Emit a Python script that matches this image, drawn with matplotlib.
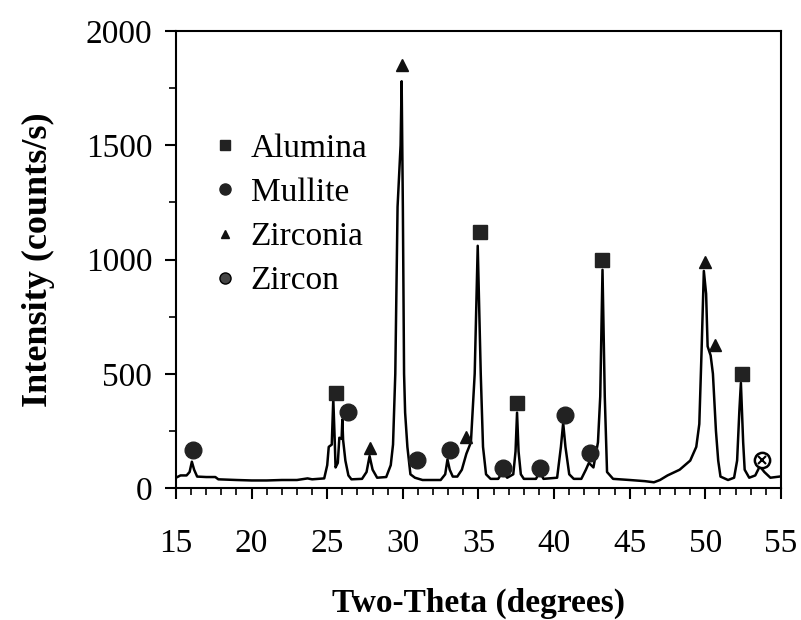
import matplotlib.pyplot as plt
from matplotlib.lines import Line2D

two_theta = [15.0, 15.3, 15.7, 15.9, 16.05, 16.2, 16.4, 17.0, 17.6, 17.8,
             19.0, 20.0, 21.0, 22.0, 23.0, 23.7, 24.0, 24.8, 25.0, 25.1,
             25.3, 25.4, 25.5, 25.55, 25.7, 25.8, 25.95, 26.0, 26.05, 26.2,
             26.4, 26.6, 27.3, 27.6, 27.8, 28.0, 28.3, 28.9, 29.2, 29.35,
             29.5, 29.65, 29.85, 29.92, 30.0, 30.08, 30.15, 30.3, 30.5, 30.8,
             31.3, 32.5, 32.8, 32.95, 33.1, 33.3, 33.6, 33.9, 34.2, 34.5,
             34.75, 34.95, 35.15, 35.3, 35.5, 35.8, 36.3, 36.6, 36.9, 37.3,
             37.45, 37.55, 37.65, 37.8, 38.0, 38.8, 39.05, 39.3, 40.2, 40.45,
             40.6, 40.75, 41.0, 41.3, 41.8, 42.1, 42.3, 42.6, 42.9, 43.05,
             43.2, 43.35, 43.5, 43.9, 45.0, 46.0, 46.6, 47.0, 47.5, 48.3,
             49.0, 49.4, 49.6, 49.75, 49.9, 50.05, 50.15, 50.35, 50.5, 50.7,
             50.85, 51.0, 51.5, 51.9, 52.1, 52.25, 52.35, 52.5, 52.6, 52.9,
             53.3, 53.6, 53.9, 54.3, 54.9]
intensity = [45, 55, 55, 70, 115, 80, 50, 48, 48, 38,
             35, 33, 33, 35, 35, 42, 38, 42, 100, 180,
             190, 390, 200, 90, 110, 220, 215, 300, 210, 120,
             55, 38, 40, 70, 140, 80, 45, 48, 100, 190,
             500, 1230, 1500, 1780, 1230, 500, 330, 180, 60, 45,
             35, 35, 60, 125, 80, 50, 50, 80, 150, 200,
             500, 1060, 500, 180, 60, 40, 40, 70, 45, 60,
             160, 330, 160, 60, 40, 40, 70, 40, 45, 180,
             285, 180, 60, 40, 40, 80, 110, 90, 200, 400,
             955, 400, 70, 40, 35, 30, 25, 35, 55, 80,
             120, 180, 280, 600, 950, 850, 620, 580, 500, 250,
             120, 50, 35, 45, 120, 340, 460, 200, 80, 45,
             55, 95, 70, 45, 50]

# phase markers (position, height)
alumina_x = [25.56, 35.10, 37.53, 43.19, 52.44]
alumina_y = [414, 1122, 371, 998, 499]
mullite_x = [16.15, 26.39, 30.91, 33.12, 36.64, 39.07, 40.72, 42.37]
mullite_y = [166, 332, 122, 166, 88, 88, 319, 153]
zirconia_x = [27.83, 29.92, 34.17, 49.98, 50.64]
zirconia_y = [175, 1851, 223, 990, 626]
zircon_x = [53.72]
zircon_y = [122]

plt.rcParams['font.family'] = 'Liberation Serif'

fig = plt.figure(figsize=(8.01, 6.2), dpi=100)
ax = fig.add_axes([0.2197, 0.2129, 0.7553, 0.7371])

ax.plot(two_theta, intensity, color='black', lw=1.8)
ax.plot(alumina_x, alumina_y, 's', color='#222222', ms=10, ls='none')
ax.plot(mullite_x, mullite_y, 'o', color='#222222', ms=12, ls='none')
ax.plot(zirconia_x, zirconia_y, '^', color='#111111', ms=9, ls='none')
ax.plot(zircon_x, zircon_y, 'o', mfc='white', mec='black', mew=1.8, ms=11, ls='none')
ax.plot(zircon_x, zircon_y, 'x', color='black', mew=1.5, ms=6, ls='none')

ax.set_xlim(15, 55)
ax.set_ylim(0, 2000)
ax.set_xticks(range(15, 56, 5))
ax.set_xticks(range(15, 56), minor=True)
ax.set_yticks(range(0, 2001, 500))
ax.set_yticks(range(0, 2001, 250), minor=True)
ax.tick_params(which='major', direction='out', length=8, width=1.5, labelsize=24)
ax.tick_params(which='minor', direction='out', length=5, width=1.2)
ax.tick_params(axis='x', which='major', pad=21)
ax.tick_params(axis='y', which='major', pad=9)
for s in ax.spines.values():
    s.set_linewidth(1.5)

ax.set_xlabel('Two-Theta (degrees)', fontsize=24, fontweight='bold', labelpad=21)
ax.set_ylabel('Intensity (counts/s)', fontsize=26, fontweight='bold', labelpad=22)

handles = [
    Line2D([], [], marker='s', color='#222222', ls='none', ms=7),
    Line2D([], [], marker='o', color='#222222', ls='none', ms=8),
    Line2D([], [], marker='^', color='#111111', ls='none', ms=6),
    Line2D([], [], marker='o', mfc='#444444', mec='black', ls='none', ms=8),
]
ax.legend(handles, ['Alumina', 'Mullite', 'Zirconia', 'Zircon'],
          loc='upper left', bbox_to_anchor=(0.037, 0.805), frameon=False,
          fontsize=24, handlelength=0.8, handletextpad=0.37, labelspacing=0.41,
          borderaxespad=0)

fig.savefig('out.png', dpi=100)
